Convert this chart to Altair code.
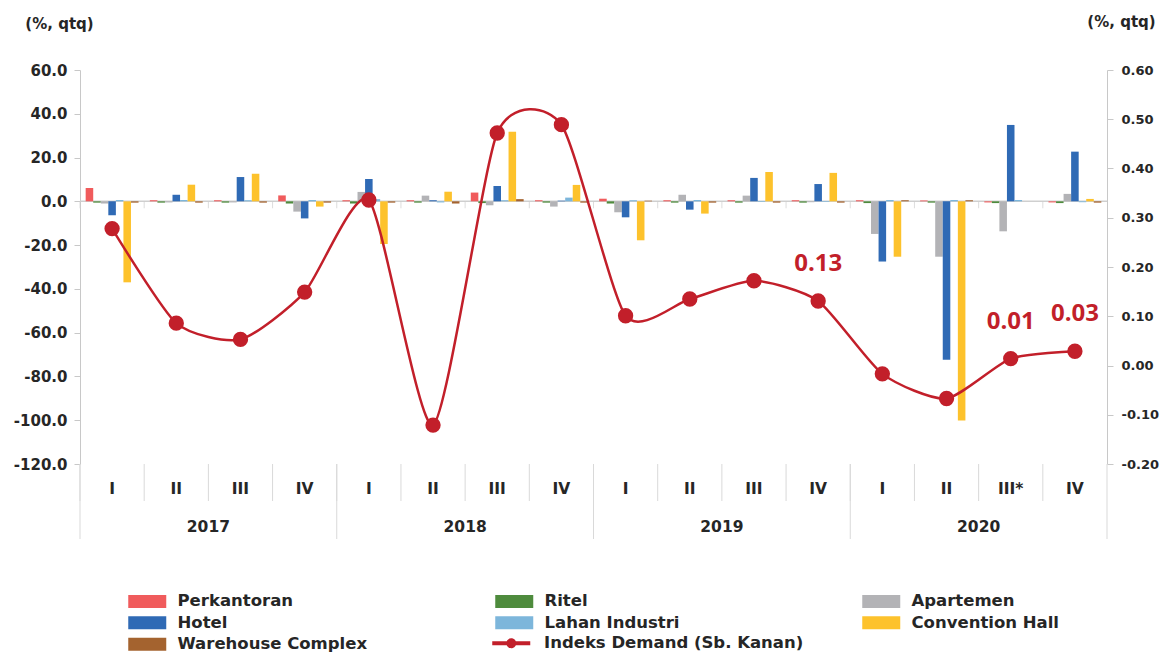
import altair as alt
import pandas as pd

# ---------------- data ----------------
years = ["2017", "2018", "2019", "2020"]
quarters = ["I", "II", "III", "IV", "I", "II", "III", "IV",
            "I", "II", "III", "IV", "I", "II", "III*", "IV"]
series = ["Perkantoran", "Ritel", "Apartemen", "Hotel",
          "Lahan Industri", "Convention Hall", "Warehouse Complex"]
line_name = "Indeks Demand (Sb. Kanan)"
series_colors = ["#F05B5C", "#4E8B3D", "#B3B3B6", "#2F6AB5",
                 "#7DB6DB", "#FDC22C", "#A4632F"]
line_color = "#C21F2A"

perkantoran = [6.1, 0.5, 0.5, 2.7, 0.5, 0.5, 4.0, 0.5, 1.2, 0.5, 0.5, 0.5, 0.5, 0.4, -0.5, -0.5]
ritel = [-0.6, -0.6, -0.6, -1.0, -1.0, -0.6, -0.8, -0.6, -1.0, -0.6, -0.6, -0.6, -0.8, -0.6, -0.8, -0.8]
apartemen = [-1.0, -0.5, -0.5, -4.7, 4.3, 2.6, -1.8, -2.4, -5.0, 3.0, 2.6, -0.4, -14.9, -25.3, -13.7, 3.4]
hotel = [-6.4, 3.0, 11.1, -7.8, 10.2, 0.5, 7.0, 0.3, -7.3, -3.8, 10.7, 7.9, -27.5, -72.4, 34.9, 22.7]
lahan_industri = [0.6, 0.6, 0.5, 0.6, 1.0, -0.5, 0.5, 1.7, 0.5, 0.6, -0.3, -0.3, 0.6, 0.6, 0.6, -0.4]
convention_hall = [-37.0, 7.6, 12.6, -2.4, -19.5, 4.4, 31.8, 7.5, -17.8, -5.6, 13.4, 13.0, -25.3, -100.1, 0.0, 1.1]
warehouse = [-0.6, -0.6, -0.6, -0.6, -0.6, -1.0, 1.0, -0.6, 0.3, -0.6, -0.6, -0.6, 0.5, 0.5, 0.0, -0.6]

indeks_demand = [0.278, 0.086, 0.053, 0.149, 0.336, -0.121, 0.472, 0.489,
                 0.101, 0.135, 0.172, 0.131, -0.017, -0.067, 0.014, 0.029]
demand_labels = ["", "", "", "", "", "", "", "", "", "", "", "0.13", "", "", "0.01", "0.03"]

left_ticks = [-120, -100, -80, -60, -40, -20, 0, 20, 40, 60]
right_ticks = [-0.2, -0.1, 0.0, 0.1, 0.2, 0.3, 0.4, 0.5, 0.6]

# ---------------- tables ----------------
qid = [f"{years[i // 4]} {quarters[i]}" for i in range(len(quarters))]
values_by_series = [perkantoran, ritel, apartemen, hotel, lahan_industri, convention_hall, warehouse]

bar_df = pd.DataFrame([
    {"qid": qid[i], "series": s, "value": vals[i]}
    for s, vals in zip(series, values_by_series) for i in range(len(qid))
])
q_df = pd.DataFrame({
    "qid": qid,
    "year": [years[i // 4] for i in range(len(qid))],
    "pos": [i % 4 for i in range(len(qid))],
    "demand": indeks_demand,
    "label": demand_labels,
    "lname": [line_name] * len(qid),
})

FONT = "DejaVu Sans"
TXT = "#262626"
GRID = "#d9d9d9"
W, H = 1027, 394

xscale = alt.Scale(type="band", domain=qid, paddingInner=0, paddingOuter=0)

x_axis = alt.Axis(
    title=None, domain=False, ticks=False, tickSize=0, labelAngle=0,
    labelExpr="split(datum.label, ' ')[1]", labelPadding=17,
    labelFont=FONT, labelFontSize=15.5, labelFontWeight="bold", labelColor=TXT,
)

left_axis = alt.Axis(
    values=left_ticks, labelExpr="replace(format(datum.value, '.1f'), '\u2212', '-')",
    grid=False, domainColor="#c8c8c8", tickColor="#c8c8c8", tickSize=6, labelPadding=7,
    labelFont=FONT, labelFontSize=15, labelFontWeight="bold", labelColor=TXT,
    title="(%, qtq)", titleAngle=0, titleX=-21, titleY=-47, titleAlign="center",
    titleBaseline="middle", titleFont=FONT, titleFontSize=15, titleFontWeight="bold",
    titleColor=TXT,
)
right_axis = alt.Axis(
    orient="right", values=right_ticks,
    labelExpr="replace(format(datum.value, '.2f'), '\u2212', '-')",
    grid=False, domainColor="#c8c8c8", tickColor="#c8c8c8", tickSize=6, labelPadding=8,
    labelFont=FONT, labelFontSize=13, labelFontWeight="bold", labelColor=TXT,
    title="(%, qtq)", titleAngle=0, titleX=14, titleY=-49, titleAlign="center",
    titleBaseline="middle", titleFont=FONT, titleFontSize=15, titleFontWeight="bold",
    titleColor=TXT,
)

RECT = "M-1,-1.3H6.6V1.3H-1Z"
LINESYM = "M-1,-0.4H6.6V0.4H-1Z M1.8,0A1,1 0 1,1 3.8,0A1,1 0 1,1 1.8,0Z"

bar_legend = alt.Legend(
    orient="none", legendX=45, legendY=523, columns=3, direction="horizontal", title=None,
    symbolSize=100, symbolType=RECT, symbolStrokeWidth=0, symbolOpacity=1,
    labelOffset=36, labelFont=FONT, labelFontSize=16.5, labelFontWeight="bold",
    labelColor=TXT, labelLimit=500, columnPadding=124, rowPadding=4.5,
    gridAlign="all", padding=0,
)
line_legend = alt.Legend(
    orient="none", legendX=409, legendY=565, title=None,
    symbolSize=100, symbolType=LINESYM, symbolStrokeWidth=0, symbolOpacity=1,
    symbolFillColor=line_color,
    labelOffset=38.5, labelFont=FONT, labelFontSize=16.5, labelFontWeight="bold",
    labelColor=TXT, labelLimit=500, padding=0,
)

# ---------------- left (bars) ----------------
zero_rule = alt.Chart(q_df).mark_rule(color="#cfcfcf", strokeWidth=1.5).encode(
    y=alt.Y(datum=0)
).transform_filter("datum.pos == 0 && datum.year == '2017'")

zero_ticks = alt.Chart(q_df).mark_tick(
    orient="vertical", size=7, thickness=1, yOffset=3.5, color="#cfcfcf"
).encode(
    x=alt.X("qid:N", scale=xscale, bandPosition=0),
    y=alt.Y(datum=0),
)

bars = alt.Chart(bar_df).mark_bar().encode(
    x=alt.X("qid:N", scale=xscale, axis=x_axis, sort=None),
    xOffset=alt.XOffset("series:N", scale=alt.Scale(domain=series, paddingInner=0, paddingOuter=0.75)),
    y=alt.Y("value:Q", scale=alt.Scale(domain=[-120, 60], nice=False, zero=False), axis=left_axis),
    color=alt.Color("series:N",
                    scale=alt.Scale(domain=series, range=series_colors),
                    legend=bar_legend),
)

q_sep = alt.Chart(q_df).mark_rule(color=GRID, strokeWidth=1).encode(
    x=alt.X("qid:N", scale=xscale, bandPosition=0),
    y=alt.value(H), y2=alt.value(H + 37),
)
y_sep = alt.Chart(q_df).mark_rule(color=GRID, strokeWidth=1).encode(
    x=alt.X("qid:N", scale=xscale, bandPosition=0),
    y=alt.value(H), y2=alt.value(H + 75),
).transform_filter("datum.pos == 0")
y_sep_end = alt.Chart(q_df).mark_rule(color=GRID, strokeWidth=1).encode(
    x=alt.X("qid:N", scale=xscale, bandPosition=1),
    y=alt.value(H), y2=alt.value(H + 75),
).transform_filter(f"datum.qid == '{qid[-1]}'")
year_text = alt.Chart(q_df).mark_text(
    font=FONT, fontSize=15.5, fontWeight="bold", color=TXT, baseline="middle"
).encode(
    x=alt.X("qid:N", scale=xscale, bandPosition=0),
    y=alt.value(H + 63),
    text="year:N",
).transform_filter("datum.pos == 2")

left = alt.layer(zero_rule, bars, zero_ticks, q_sep, y_sep, y_sep_end, year_text)

# ---------------- right (line) ----------------
ry = alt.Y("demand:Q", scale=alt.Scale(domain=[-0.2, 0.6], nice=False, zero=False), axis=right_axis)
line = alt.Chart(q_df).mark_line(
    interpolate="cardinal", tension=0.35, strokeWidth=2.5
).encode(
    x=alt.X("qid:N", scale=xscale), y=ry,
    stroke=alt.Stroke("lname:N", scale=alt.Scale(domain=[line_name], range=[line_color]),
                      legend=line_legend),
)
points = alt.Chart(q_df).mark_circle(size=235, color=line_color, opacity=1).encode(
    x=alt.X("qid:N", scale=xscale), y=ry
)
labels = alt.Chart(q_df).mark_text(
    dy=-37, font="Open Sans", fontSize=24, fontWeight="bold", color=line_color, baseline="middle"
).encode(
    x=alt.X("qid:N", scale=xscale), y=ry, text="label:N"
).transform_filter("datum.label != ''")

right = alt.layer(line, points, labels)

chart = alt.layer(left, right).resolve_scale(y="independent").properties(
    width=W, height=H,
    autosize=alt.AutoSizeParams(type="none"),
    padding={"left": 72, "top": 62, "right": 53, "bottom": 190},
    background="white",
).configure_view(stroke=None)

chart.save("out.html", embed_options={"renderer": "svg", "actions": False})
